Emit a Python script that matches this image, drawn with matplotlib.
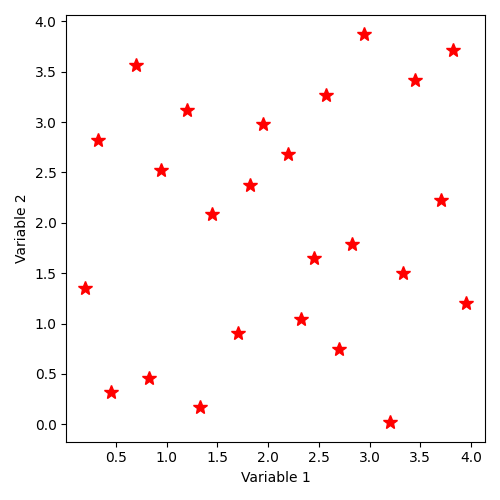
import matplotlib
matplotlib.use('Agg')
import matplotlib.pyplot as plt

# values
var1 = [0.2, 0.45, 0.325, 0.7, 0.825, 0.95, 1.2, 1.325, 1.45, 1.7, 1.825, 1.95, 2.2,
        2.325, 2.45, 2.575, 2.7, 2.825, 2.95, 3.2, 3.325, 3.45, 3.7, 3.825, 3.95]
var2 = [1.35, 0.32, 2.82, 3.57, 0.46, 2.52, 3.12, 0.17, 2.09, 0.91, 2.38, 2.98, 2.68,
        1.05, 1.65, 3.27, 0.75, 1.79, 3.87, 0.02, 1.50, 3.42, 2.23, 3.72, 1.20]

fig, ax = plt.subplots(figsize=(5, 5), dpi=100)
ax.plot(var1, var2, linestyle='none', marker='*', color='red', markersize=10)
ax.set_xlabel("Variable 1")
ax.set_ylabel("Variable 2")
plt.tight_layout()
plt.savefig("out.png")
